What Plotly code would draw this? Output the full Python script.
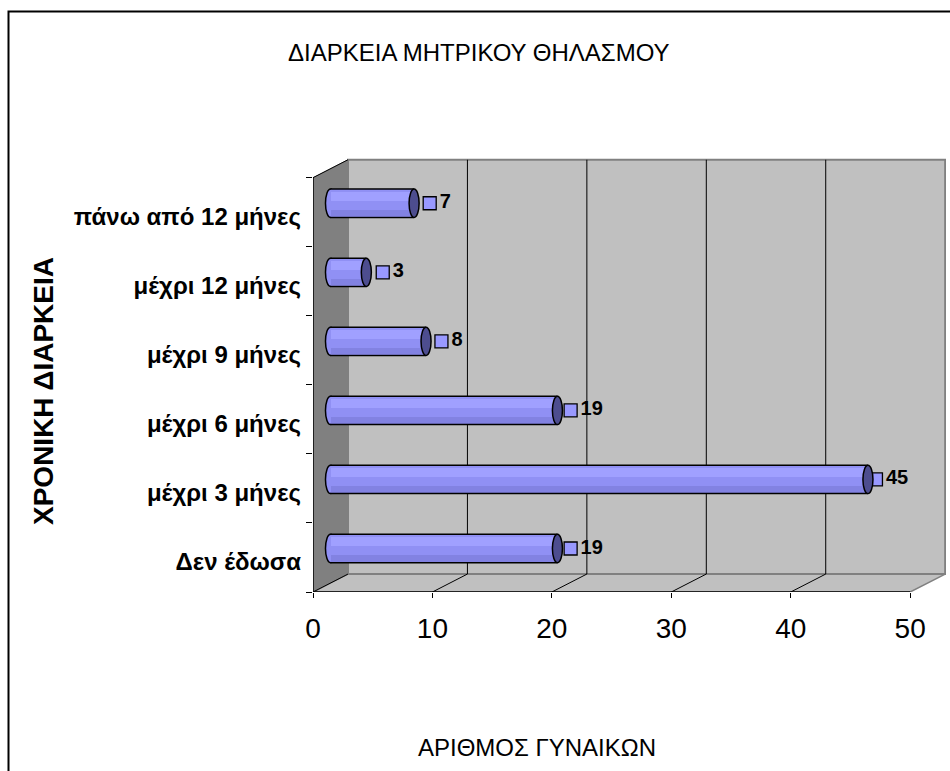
import plotly.graph_objects as go

# Breastfeeding duration survey
categories = ["Δεν έδωσα", "μέχρι 3 μήνες", "μέχρι 6 μήνες",
              "μέχρι 9 μήνες", "μέχρι 12 μήνες", "πάνω από 12 μήνες"]
women = [19, 45, 19, 8, 3, 7]
x_ticks = [0, 10, 20, 30, 40, 50]

chart_title = "ΔΙΑΡΚΕΙΑ ΜΗΤΡΙΚΟΥ ΘΗΛΑΣΜΟΥ"
x_title = "ΑΡΙΘΜΟΣ ΓΥΝΑΙΚΩΝ"
y_title = "ΧΡΟΝΙΚΗ ΔΙΑΡΚΕΙΑ"

# page / plot geometry
W, H = 950, 771
ML, MR, MT, MB = 313, 4, 157, 179
X_RANGE = [0, 53]
Y_RANGE = [-0.5, 5.8]
PW, PH = W - ML - MR, H - MT - MB
PX_PER_X = PW / (X_RANGE[1] - X_RANGE[0])

# pseudo-3D box: depth offset of the back wall, in axis units
DX = 2.93
DY = 0.26
X_MAX = x_ticks[-1]
Y_LO, Y_HI = -0.5, len(categories) - 0.5

BAR_W = 0.41
CAP_RX = 0.42

BODY = "#9090F4"
BODY_HI = "#A0A0FF"
BODY_LO = "#8282E2"
CAP_DARK = "#4D4D8F"
WALL = "#C0C0C0"
SIDE = "#808080"
EDGE = "#808080"

FONT = "Liberation Sans, Arial, sans-serif"


def paper_x(px):
    return (px - ML) / PW


def paper_y(py):
    return (H - MB - py) / PH


y_pos = [i + DY / 2 for i in range(len(categories))]
bar_base = DX / 2
bar_end = [bar_base + v for v in women]

shapes = []
# floor
shapes.append(dict(type="path", xref="x", yref="y", layer="below",
                   path=f"M 0,{Y_LO} L {X_MAX},{Y_LO} L {X_MAX + DX},{Y_LO + DY} L {DX},{Y_LO + DY} Z",
                   fillcolor=WALL, line=dict(color=EDGE, width=1.5)))
# back wall
shapes.append(dict(type="rect", xref="x", yref="y", layer="below",
                   x0=DX, x1=X_MAX + DX, y0=Y_LO + DY, y1=Y_HI + DY,
                   fillcolor=WALL, line=dict(color=EDGE, width=2)))
# left side wall
shapes.append(dict(type="path", xref="x", yref="y", layer="below",
                   path=f"M 0,{Y_LO} L 0,{Y_HI} L {DX},{Y_HI + DY} L {DX},{Y_LO + DY} Z",
                   fillcolor=SIDE, line=dict(color=SIDE, width=1)))
# black edges of the side wall
shapes.append(dict(type="line", xref="x", yref="y", layer="below",
                   x0=0, y0=Y_HI, x1=DX, y1=Y_HI + DY, line=dict(color="black", width=1)))
shapes.append(dict(type="line", xref="x", yref="y", layer="below",
                   x0=0, y0=Y_LO, x1=DX, y1=Y_LO + DY, line=dict(color="black", width=1)))
# gridlines on back wall and floor
for t in x_ticks[1:-1]:
    shapes.append(dict(type="line", xref="x", yref="y", layer="below",
                       x0=t + DX, x1=t + DX, y0=Y_LO + DY, y1=Y_HI + DY,
                       line=dict(color="black", width=1)))
    shapes.append(dict(type="line", xref="x", yref="y", layer="below",
                       x0=t, x1=t + DX, y0=Y_LO, y1=Y_LO + DY,
                       line=dict(color="black", width=1)))
# front axis lines
shapes.append(dict(type="line", xref="x", yref="y", layer="below",
                   x0=0, x1=X_MAX, y0=Y_LO, y1=Y_LO, line=dict(color="black", width=1.5)))
shapes.append(dict(type="line", xref="x", yref="y", layer="below",
                   x0=0, x1=0, y0=Y_LO, y1=Y_HI, line=dict(color="black", width=1.5)))

# left cylinder caps: only the bulge outside the body stays visible
for y in y_pos:
    shapes.append(dict(type="circle", xref="x", yref="y", layer="below",
                       x0=bar_base - CAP_RX, x1=bar_base + CAP_RX,
                       y0=y - BAR_W / 2, y1=y + BAR_W / 2,
                       fillcolor=BODY, line=dict(color="black", width=1.5)))
# top and bottom outlines of the cylinder bodies
for xe, y in zip(bar_end, y_pos):
    for yy in (y - BAR_W / 2, y + BAR_W / 2):
        shapes.append(dict(type="line", xref="x", yref="y", layer="above",
                           x0=bar_base, x1=xe, y0=yy, y1=yy,
                           line=dict(color="black", width=1.5)))
# right cylinder caps
for xe, y in zip(bar_end, y_pos):
    shapes.append(dict(type="circle", xref="x", yref="y", layer="above",
                       x0=xe - CAP_RX, x1=xe + CAP_RX,
                       y0=y - BAR_W / 2, y1=y + BAR_W / 2,
                       fillcolor=CAP_DARK, line=dict(color="black", width=1.5)))

# outer chart frame
shapes.append(dict(type="rect", xref="paper", yref="paper",
                   x0=paper_x(8.5), x1=paper_x(W + 20), y0=paper_y(H + 20), y1=paper_y(11.5),
                   line=dict(color="black", width=2), fillcolor="rgba(0,0,0,0)"))

fig = go.Figure()

# cylinder bodies with shading bands
fig.add_trace(go.Bar(orientation="h", x=women, y=y_pos, base=bar_base, width=BAR_W,
                     marker=dict(color=BODY, line=dict(width=0)),
                     hoverinfo="skip", showlegend=False))
fig.add_trace(go.Bar(orientation="h", x=women, y=y_pos, base=bar_base, width=0.12,
                     offset=0.04, marker=dict(color=BODY_HI, line=dict(width=0)),
                     hoverinfo="skip", showlegend=False))
fig.add_trace(go.Bar(orientation="h", x=women, y=y_pos, base=bar_base, width=0.09,
                     offset=-0.19, marker=dict(color=BODY_LO, line=dict(width=0)),
                     hoverinfo="skip", showlegend=False))

# value labels: legend-key square followed by the number
key_x = [xe + (17 - 0.2 * v) / PX_PER_X for xe, v in zip(bar_end, women)]
text_x = [k + 10 / PX_PER_X for k in key_x]
fig.add_trace(go.Scatter(x=key_x, y=y_pos, mode="markers",
                         marker=dict(symbol="square", size=13, color="#9999FF",
                                     line=dict(color="black", width=1.3)),
                         cliponaxis=False, hoverinfo="skip", showlegend=False))
fig.add_trace(go.Scatter(x=text_x, y=y_pos, mode="text",
                         text=[str(v) for v in women], textposition="middle right",
                         textfont=dict(family=FONT, size=20, color="black", weight="bold"),
                         cliponaxis=False, hoverinfo="skip", showlegend=False))

annotations = [
    dict(text=chart_title, xref="paper", yref="paper", x=paper_x(479), y=paper_y(53),
         showarrow=False, xanchor="center", yanchor="middle",
         font=dict(family=FONT, size=24, color="black")),
    dict(text=x_title, xref="paper", yref="paper", x=paper_x(537), y=paper_y(747),
         showarrow=False, xanchor="center", yanchor="middle",
         font=dict(family=FONT, size=24, color="black")),
    dict(text=y_title, xref="paper", yref="paper", x=paper_x(43), y=paper_y(391),
         showarrow=False, xanchor="center", yanchor="middle", textangle=-90,
         font=dict(family=FONT, size=28, color="black", weight="bold")),
]

fig.update_layout(
    width=W, height=H,
    margin=dict(l=ML, r=MR, t=MT, b=MB, pad=0),
    paper_bgcolor="white", plot_bgcolor="white",
    barmode="overlay", bargap=0,
    shapes=shapes, annotations=annotations,
    showlegend=False,
    xaxis=dict(range=X_RANGE, tickvals=x_ticks, ticktext=[str(t) for t in x_ticks],
               showgrid=False, zeroline=False, showline=False,
               ticks="outside", ticklen=5, tickcolor="black", tickwidth=1,
               tickfont=dict(family=FONT, size=28, color="black"),
               ticklabelstandoff=6, fixedrange=True),
    yaxis=dict(range=Y_RANGE, tickvals=[i - 0.06 for i in range(len(categories))],
               ticktext=categories,
               showgrid=False, zeroline=False, showline=False, ticks="",
               minor=dict(tickvals=[i - 0.5 for i in range(len(categories) + 1)],
                          ticks="outside", ticklen=6, tickcolor="black", tickwidth=1,
                          showgrid=False),
               tickfont=dict(family=FONT, size=24, color="black", weight="bold"),
               ticklabelstandoff=11, fixedrange=True),
)

fig.write_html("out.html")
